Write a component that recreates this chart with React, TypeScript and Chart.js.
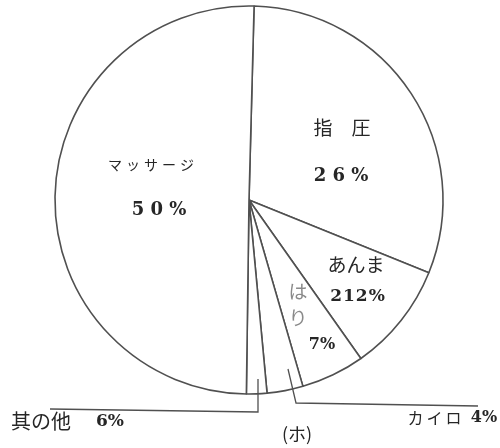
import React, { useEffect, useRef } from "react";
import { Chart, registerables } from "chart.js";

Chart.register(...registerables);

// Slice categories, clockwise from the top
const categories = ["指圧", "あんま", "はり", "カイロ", "其の他", "マッサージ"];
const sliceValues = [30.7, 9.1, 5.3, 3.0, 1.7, 50.2];
// Percent labels as printed on the chart
const printedLabels = ["2 6 %", "212%", "7%", "4%", "6%", "5 0 %"];
const captionText = "(ホ)";

const INK = "#262626";
const LINE = "#505050";
const JP = "'Noto Sans CJK JP', 'Noto Sans', sans-serif";
const NUM = "'DejaVu Serif', 'Liberation Serif', serif";

const labelPlugin = {
  id: "labelPlugin",
  afterDraw(chart: any) {
    const ctx = chart.ctx as CanvasRenderingContext2D;
    ctx.save();
    ctx.textAlign = "center";
    ctx.textBaseline = "middle";
    const txt = (s: string, x: number, y: number, size: number, family = JP, color = INK, spacing = "0px", weight = "normal") => {
      ctx.font = `${weight} ${size}px ${family}`;
      ctx.fillStyle = color;
      (ctx as any).letterSpacing = spacing;
      ctx.fillText(s, x, y);
    };
    // 指圧
    txt("指　圧", 342, 128, 19);
    txt(printedLabels[0], 341, 176, 18, NUM, INK, "0px", "bold");
    // マッサージ
    txt(categories[5], 153, 165, 14, JP, INK, "4px");
    txt(printedLabels[5], 159, 210, 18, NUM, INK, "0px", "bold");
    // あんま
    txt(categories[1], 356, 265, 19);
    txt(printedLabels[1], 358, 297, 17, NUM, INK, "1px", "bold");
    // はり (vertical, faint)
    txt("は", 298, 292, 19, JP, "#8a8a8a");
    txt("り", 298, 318, 19, JP, "#8a8a8a");
    txt(printedLabels[2], 322, 345, 16, NUM, INK, "0px", "bold");
    // 其の他
    txt(categories[4], 41, 421, 20);
    txt(printedLabels[4], 110, 422, 17, NUM, INK, "0px", "bold");
    // カイロ
    txt(categories[3], 436, 418, 16, JP, INK, "3px");
    txt(printedLabels[3], 484, 418, 16, NUM, INK, "0px", "bold");
    // caption
    txt(captionText, 297, 434, 18);

    // leader lines
    ctx.strokeStyle = LINE;
    ctx.lineWidth = 1.3;
    ctx.beginPath();
    ctx.moveTo(258, 379);
    ctx.lineTo(258, 412);
    ctx.lineTo(50, 409);
    ctx.stroke();
    ctx.beginPath();
    ctx.moveTo(288, 369);
    ctx.lineTo(296, 403);
    ctx.lineTo(478, 406);
    ctx.stroke();
    ctx.restore();
  },
};

export default function App() {
  const ref = useRef<HTMLCanvasElement | null>(null);
  useEffect(() => {
    if (!ref.current) return;
    const chart = new Chart(ref.current, {
      type: "pie",
      data: {
        labels: categories,
        datasets: [
          {
            data: sliceValues,
            backgroundColor: "#ffffff",
            borderColor: LINE,
            borderWidth: 1.6,
            radius: 194,
          } as any,
        ],
      },
      options: {
        animation: false,
        responsive: false,
        rotation: 1.5,
        layout: { padding: { left: 55, right: 57, top: 6, bottom: 54 } },
        plugins: {
          legend: { display: false },
          tooltip: { enabled: false },
        },
      },
      plugins: [labelPlugin],
    });
    return () => chart.destroy();
  }, []);
  return (
    <div style={{ position: "fixed", left: 0, top: 0, width: 500, height: 448, background: "#fff" }}>
      <canvas ref={ref} width={500} height={448} />
    </div>
  );
}
